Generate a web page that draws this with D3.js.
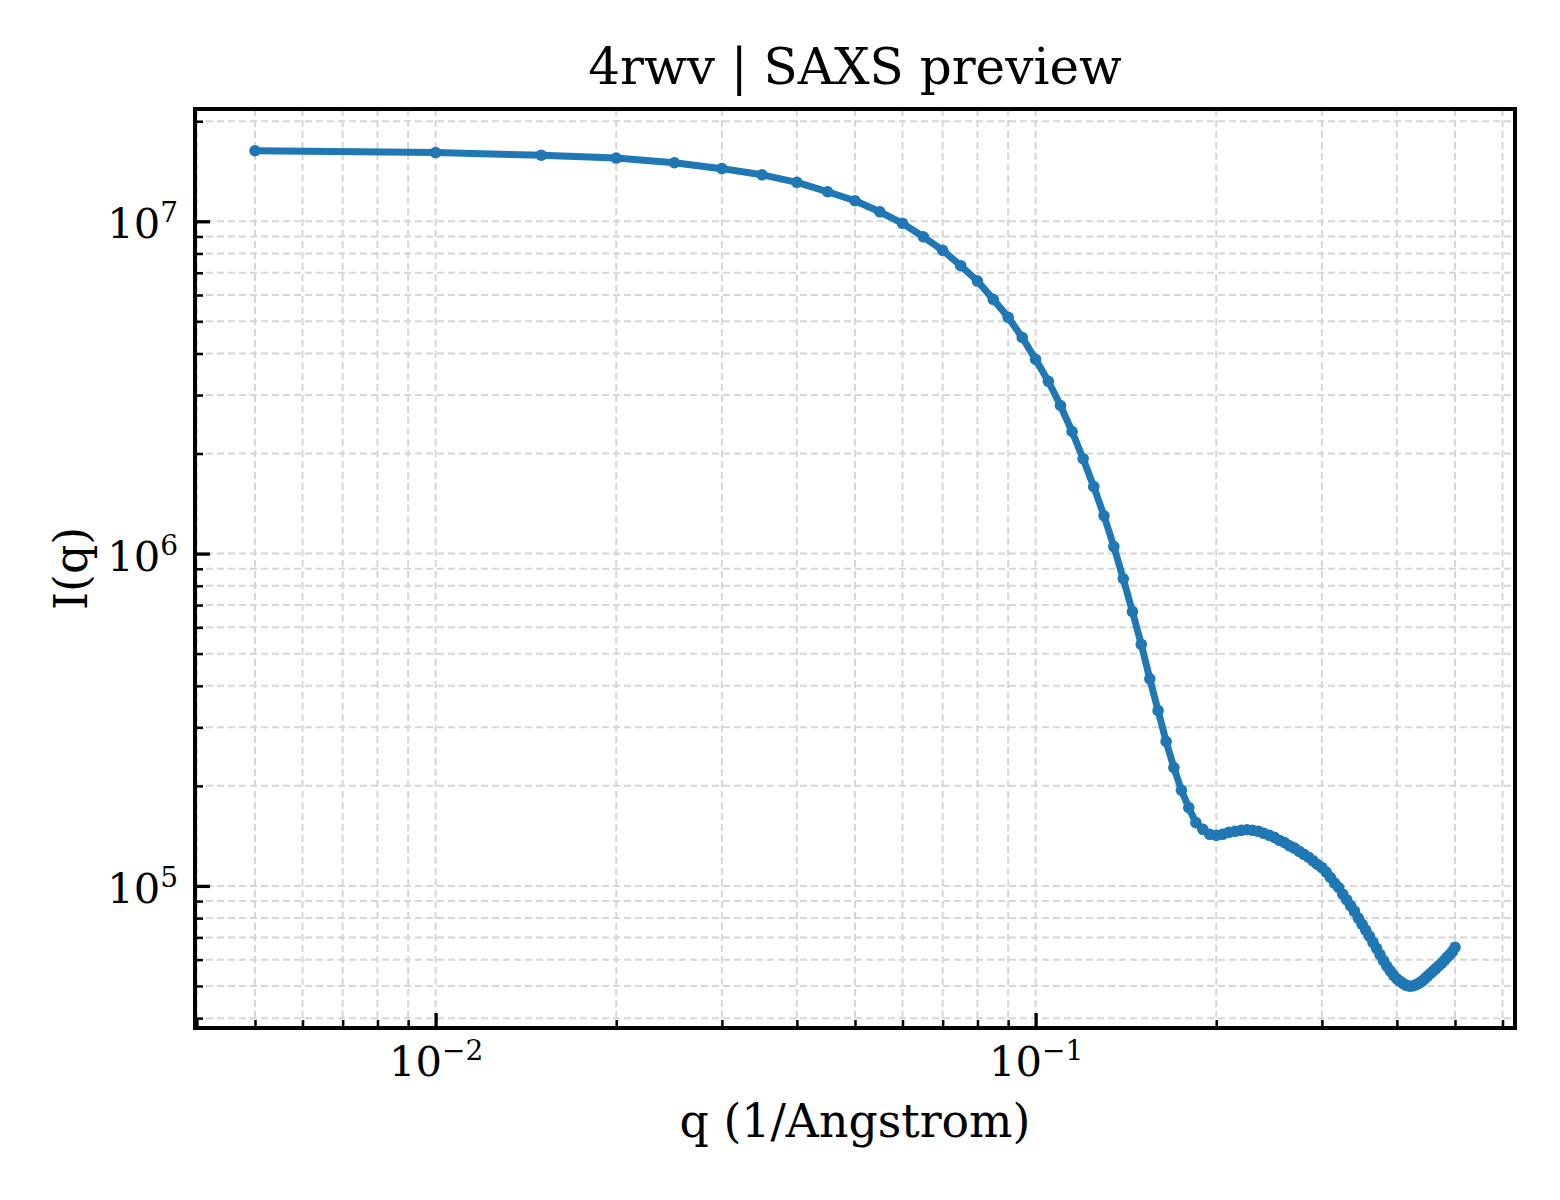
<!DOCTYPE html>
<html>
<head>
<meta charset="utf-8">
<script src="https://cdn.jsdelivr.net/npm/d3@7"></script>
<style>
    body { margin: 0; background: #fff; }
    svg text { font-family: "DejaVu Serif", serif; fill: #000; }
</style>
</head>
<body>
<div class="vis-div"></div>
<script>
const qValues = [
    0.005, 0.010, 0.015, 0.020, 0.025, 0.030, 0.035, 0.040, 0.045, 0.050,
    0.055, 0.060, 0.065, 0.070, 0.075, 0.080, 0.085, 0.090, 0.095, 0.100,
    0.105, 0.110, 0.115, 0.120, 0.125, 0.130, 0.135, 0.140, 0.145, 0.150,
    0.155, 0.160, 0.165, 0.170, 0.175, 0.180, 0.185, 0.190, 0.195, 0.200,
    0.205, 0.210, 0.215, 0.220, 0.225, 0.230, 0.235, 0.240, 0.245, 0.250,
    0.255, 0.260, 0.265, 0.270, 0.275, 0.280, 0.285, 0.290, 0.295, 0.300,
    0.305, 0.310, 0.315, 0.320, 0.325, 0.330, 0.335, 0.340, 0.345, 0.350,
    0.355, 0.360, 0.365, 0.370, 0.375, 0.380, 0.385, 0.390, 0.395, 0.400,
    0.405, 0.410, 0.415, 0.420, 0.425, 0.430, 0.435, 0.440, 0.445, 0.450,
    0.455, 0.460, 0.465, 0.470, 0.475, 0.480, 0.485, 0.490, 0.495, 0.500
]

const intensity = [
    1.63e7, 1.61e7, 1.58e7, 1.55e7, 1.50e7, 1.44e7, 1.38e7, 1.31e7, 1.227e7, 1.153e7,
    1.068e7, 9.86e6, 8.98e6, 8.18e6, 7.35e6, 6.61e6, 5.82e6, 5.14e6, 4.47e6, 3.84e6,
    3.30e6, 2.79e6, 2.33e6, 1.93e6, 1.59e6, 1.30e6, 1.05e6, 8.40e5, 6.69e5, 5.33e5,
    4.20e5, 3.37e5, 2.72e5, 2.27e5, 1.94e5, 1.72e5, 1.55e5, 1.48e5, 1.43e5, 1.42e5,
    1.43e5, 1.45e5, 1.46e5, 1.47e5, 1.476e5, 1.47e5, 1.46e5, 1.44e5, 1.42e5, 1.40e5,
    1.37e5, 1.35e5, 1.32e5, 1.30e5, 1.27e5, 1.245e5, 1.22e5, 1.19e5, 1.16e5, 1.135e5,
    1.10e5, 1.06e5, 1.02e5, 9.89e4, 9.44e4, 9.08e4, 8.71e4, 8.38e4, 8.00e4, 7.67e4,
    7.36e4, 7.06e4, 6.76e4, 6.49e4, 6.21e4, 5.96e4, 5.73e4, 5.55e4, 5.38e4, 5.25e4,
    5.16e4, 5.08e4, 5.02e4, 4.99e4, 5.00e4, 5.04e4, 5.09e4, 5.16e4, 5.25e4, 5.35e4,
    5.45e4, 5.55e4, 5.65e4, 5.75e4, 5.86e4, 5.97e4, 6.10e4, 6.21e4, 6.34e4, 6.53e4
]

const xTickValues = [0.01, 0.1]
const xTickExponents = ['\u22122', '\u22121']
const yTickValues = [1e5, 1e6, 1e7]
const yTickExponents = ['5', '6', '7']

const chartTitle = '4rwv | SAXS preview'
const xLabel = 'q (1/Angstrom)'
const yLabel = 'I(q)'


// log range padded by 5% each side, like matplotlib autoscale
const padLog = (lo, hi) => {
    const a = Math.log10(lo), b = Math.log10(hi), m = (b - a) * 0.05;
    return [10 ** (a - m), 10 ** (b + m)];
}

const isMajor = v => Math.abs(Math.log10(v) - Math.round(Math.log10(v))) < 1e-9

const supLabel = (sel, exps, vals) => {
    sel.selectAll('text').each(function (d) {
        const t = d3.select(this);
        t.text(null);
        t.append('tspan').text('10');
        t.append('tspan')
            .attr('dy', -16)
            .attr('font-size', 28)
            .text(exps[vals.indexOf(d)]);
    })
}

document.addEventListener('DOMContentLoaded', () => {
    const width = 1560;
    const height = 1200;
    const margin = ({top: 109, right: 45, bottom: 172, left: 195});
    const tickFont = 41.7;
    const labelFont = 45.8;

    const data = qValues.map((q, i) => ({q: q, value: intensity[i]}));

    const x = d3.scaleLog()
        .domain(padLog(d3.min(qValues), d3.max(qValues)))
        .range([margin.left, width - margin.right])

    const y = d3.scaleLog()
        .domain(padLog(d3.min(intensity), d3.max(intensity)))
        .range([height - margin.bottom, margin.top])

    const xMinor = x.ticks().filter(v => !isMajor(v))
    const yMinor = y.ticks().filter(v => !isMajor(v))

    const svg = d3.select('.vis-div').append('svg')
        .attr('width', width)
        .attr('height', height)
        .attr('viewBox', [0, 0, width, height]);

    svg.append('defs').append('clipPath')
        .attr('id', 'plot-area')
        .append('rect')
        .attr('x', margin.left)
        .attr('y', margin.top)
        .attr('width', width - margin.left - margin.right)
        .attr('height', height - margin.top - margin.bottom);

    // grid, major + minor, all the same dashed gray
    const grid = svg.append('g').attr('clip-path', 'url(#plot-area)')
        .attr('stroke', '#d6d6d6')
        .attr('stroke-width', 2)
        .attr('stroke-dasharray', '7,4');

    grid.selectAll('.gx')
        .data(x.ticks())
        .join('line')
        .attr('class', 'gx')
        .attr('x1', d => x(d)).attr('x2', d => x(d))
        .attr('y1', margin.top).attr('y2', height - margin.bottom);

    grid.selectAll('.gy')
        .data(y.ticks())
        .join('line')
        .attr('class', 'gy')
        .attr('y1', d => y(d)).attr('y2', d => y(d))
        .attr('x1', margin.left).attr('x2', width - margin.right);

    const line = d3.line()
        .x(d => x(d.q))
        .y(d => y(d.value))

    const plot = svg.append('g').attr('clip-path', 'url(#plot-area)');

    plot.append('path')
        .datum(data)
        .attr('fill', 'none')
        .attr('stroke', '#1f77b4')
        .attr('stroke-width', 7)
        .attr('stroke-linejoin', 'round')
        .attr('stroke-linecap', 'round')
        .attr('d', line);

    plot.selectAll('circle')
        .data(data)
        .join('circle')
        .attr('cx', d => x(d.q))
        .attr('cy', d => y(d.value))
        .attr('r', 5.8)
        .attr('fill', '#1f77b4');

    // axes: ticks point inward
    const xAxis = g => g
        .attr('transform', `translate(0,${height - margin.bottom})`)
        .call(d3.axisBottom(x).tickValues(xTickValues).tickSizeInner(-15).tickSizeOuter(0).tickPadding(18))
        .call(g => g.select('.domain').remove())
        .call(g => g.selectAll('line').attr('stroke-width', 3.3))
        .call(g => g.selectAll('text').attr('font-size', tickFont).attr('font-family', null).attr('dy', '0.71em'))
        .call(g => supLabel(g, xTickExponents, xTickValues))

    const xAxisMinor = g => g
        .attr('transform', `translate(0,${height - margin.bottom})`)
        .call(d3.axisBottom(x).tickValues(xMinor).tickSizeInner(-8).tickSizeOuter(0).tickFormat(''))
        .call(g => g.select('.domain').remove())
        .call(g => g.selectAll('line').attr('stroke-width', 2.5))

    const yAxis = g => g
        .attr('transform', `translate(${margin.left},0)`)
        .call(d3.axisLeft(y).tickValues(yTickValues).tickSizeInner(-15).tickSizeOuter(0).tickPadding(17))
        .call(g => g.select('.domain').remove())
        .call(g => g.selectAll('line').attr('stroke-width', 3.3))
        .call(g => g.selectAll('text').attr('font-size', tickFont).attr('font-family', null).attr('dy', '0.4em'))
        .call(g => supLabel(g, yTickExponents, yTickValues))

    const yAxisMinor = g => g
        .attr('transform', `translate(${margin.left},0)`)
        .call(d3.axisLeft(y).tickValues(yMinor).tickSizeInner(-8).tickSizeOuter(0).tickFormat(''))
        .call(g => g.select('.domain').remove())
        .call(g => g.selectAll('line').attr('stroke-width', 2.5))

    svg.append('g').call(xAxisMinor);
    svg.append('g').call(yAxisMinor);
    svg.append('g').call(xAxis);
    svg.append('g').call(yAxis);

    // frame
    svg.append('rect')
        .attr('x', margin.left)
        .attr('y', margin.top)
        .attr('width', width - margin.left - margin.right)
        .attr('height', height - margin.top - margin.bottom)
        .attr('fill', 'none')
        .attr('stroke', '#000')
        .attr('stroke-width', 4);

    svg.append('text')
        .attr('x', (margin.left + width - margin.right) / 2)
        .attr('y', 84)
        .attr('text-anchor', 'middle')
        .attr('font-size', 50)
        .text(chartTitle);

    svg.append('text')
        .attr('x', (margin.left + width - margin.right) / 2)
        .attr('y', 1137)
        .attr('text-anchor', 'middle')
        .attr('font-size', labelFont)
        .text(xLabel);

    svg.append('text')
        .attr('transform', `translate(87,${(margin.top + height - margin.bottom) / 2}) rotate(-90)`)
        .attr('text-anchor', 'middle')
        .attr('font-size', labelFont)
        .text(yLabel);
})
</script>
</body>
</html>
